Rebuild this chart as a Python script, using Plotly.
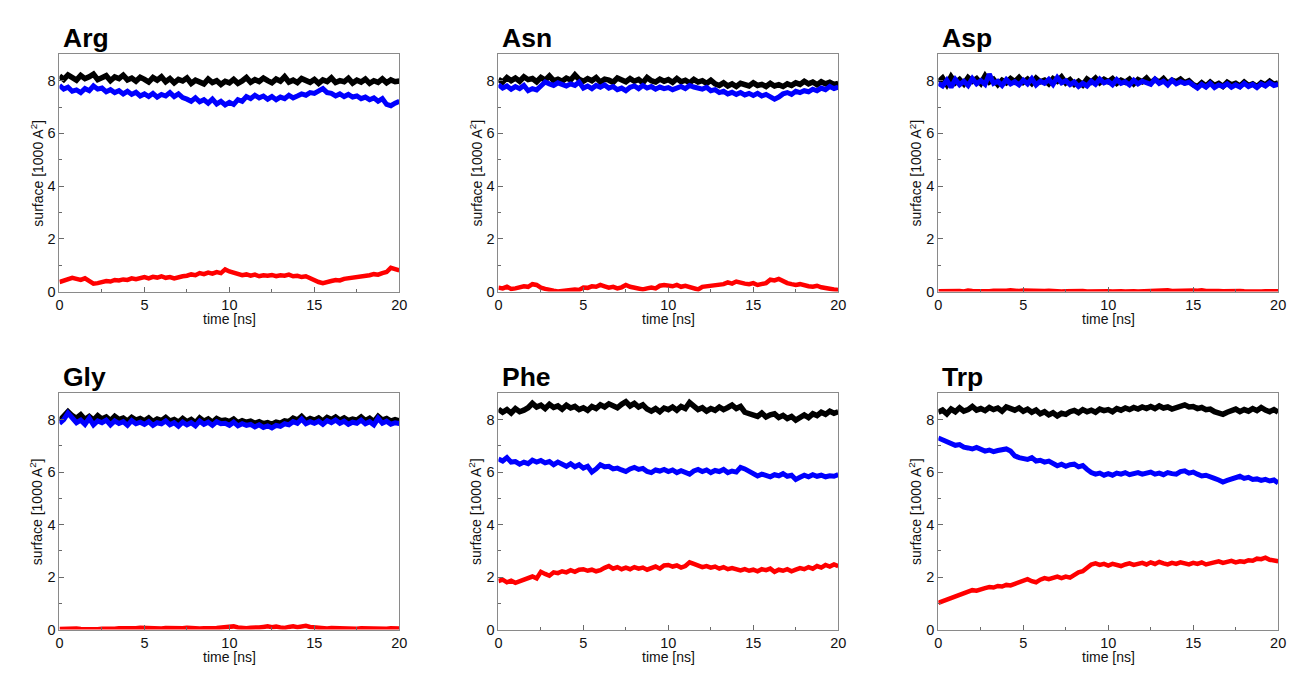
import plotly.graph_objects as go

# Solvent accessible surface per amino acid over a 20 ns trajectory
# (samples every 0.25 ns); values in 1000 A^2.
residues = ["Arg", "Asn", "Asp", "Gly", "Phe", "Trp"]
time_ns = [i * 0.25 for i in range(81)]

arg_black = [8.18,8.05,8.22,8.10,8.02,8.20,8.08,8.15,8.25,8.04,
             8.12,8.19,8.00,8.14,8.08,8.21,8.03,8.10,7.98,8.13,
             8.05,7.95,8.12,8.02,8.15,7.96,8.08,7.92,8.05,7.99,
             8.10,7.90,8.02,7.95,7.88,8.06,7.93,8.00,7.86,7.98,
             7.92,8.05,7.90,7.99,8.12,7.94,8.04,7.97,8.10,8.00,
             7.92,8.06,7.98,8.15,7.95,8.02,7.93,8.08,8.00,7.94,
             8.05,7.90,8.03,7.97,8.11,7.93,8.00,7.96,8.09,7.91,
             8.02,7.95,8.06,7.90,8.00,7.94,8.07,7.92,8.03,7.96,
             7.99]
arg_blue = [7.82,7.68,7.75,7.60,7.65,7.55,7.70,7.62,7.80,7.68,
            7.72,7.58,7.66,7.55,7.62,7.50,7.60,7.48,7.56,7.42,
            7.50,7.40,7.52,7.38,7.48,7.42,7.55,7.40,7.50,7.36,
            7.30,7.22,7.35,7.20,7.28,7.15,7.30,7.12,7.22,7.08,
            7.18,7.10,7.28,7.22,7.40,7.32,7.45,7.35,7.42,7.30,
            7.40,7.28,7.38,7.32,7.45,7.35,7.42,7.50,7.45,7.55,
            7.52,7.62,7.70,7.55,7.52,7.42,7.50,7.40,7.48,7.38,
            7.42,7.32,7.38,7.28,7.35,7.22,7.32,7.10,7.05,7.15,
            7.22]
arg_red = [0.36,0.40,0.45,0.52,0.48,0.44,0.50,0.42,0.30,0.32,
           0.36,0.40,0.38,0.44,0.42,0.46,0.44,0.50,0.47,0.52,
           0.55,0.50,0.56,0.53,0.58,0.52,0.55,0.50,0.56,0.58,
           0.60,0.65,0.62,0.70,0.66,0.72,0.68,0.74,0.70,0.84,
           0.76,0.72,0.68,0.62,0.65,0.60,0.64,0.58,0.62,0.60,
           0.63,0.58,0.62,0.60,0.64,0.58,0.60,0.55,0.58,0.50,
           0.42,0.36,0.32,0.38,0.40,0.44,0.42,0.48,0.50,0.52,
           0.56,0.54,0.60,0.62,0.66,0.64,0.70,0.74,0.90,0.85,
           0.80]

asn_black = [8.05,7.95,8.12,8.00,8.10,7.98,8.15,8.04,8.08,7.96,
             8.12,8.02,8.18,8.00,8.06,7.98,8.10,8.03,8.22,8.05,
             7.98,8.08,8.00,8.12,7.95,8.06,8.02,7.94,8.10,8.00,
             7.96,8.08,7.98,8.05,7.92,8.12,8.00,7.95,8.06,7.98,
             8.04,7.94,8.08,7.96,8.02,7.92,8.05,7.95,8.00,7.90,
             8.02,7.88,7.82,7.92,7.80,7.88,7.78,7.90,7.84,7.80,
             7.92,7.82,7.86,7.78,7.90,7.80,7.85,7.78,7.88,7.82,
             7.92,7.86,7.98,7.88,7.95,7.85,7.96,7.88,7.94,7.86,
             7.90]
asn_blue = [7.85,7.72,7.80,7.68,7.78,7.70,7.82,7.62,7.70,7.65,
            7.80,7.95,7.88,7.82,7.92,7.84,7.80,7.88,7.82,7.95,
            7.72,7.80,7.70,7.82,7.75,7.84,7.72,7.78,7.66,7.72,
            7.62,7.75,7.80,7.70,7.82,7.72,7.78,7.68,7.76,7.70,
            7.74,7.66,7.72,7.78,7.70,7.82,7.76,7.72,7.68,7.75,
            7.62,7.66,7.55,7.60,7.50,7.56,7.48,7.55,7.46,7.52,
            7.44,7.52,7.42,7.48,7.40,7.30,7.38,7.50,7.55,7.48,
            7.60,7.55,7.62,7.58,7.68,7.62,7.72,7.66,7.78,7.70,
            7.76]
asn_red = [0.15,0.12,0.18,0.10,0.12,0.15,0.20,0.18,0.28,0.25,
           0.15,0.10,0.05,0.03,0.00,0.02,0.05,0.04,0.08,0.06,
           0.15,0.14,0.20,0.18,0.25,0.20,0.15,0.18,0.12,0.16,
           0.25,0.18,0.14,0.10,0.08,0.12,0.15,0.12,0.22,0.25,
           0.24,0.20,0.25,0.18,0.22,0.16,0.10,0.08,0.18,0.20,
           0.22,0.25,0.30,0.28,0.35,0.30,0.38,0.32,0.30,0.28,
           0.32,0.25,0.30,0.32,0.45,0.42,0.48,0.38,0.32,0.28,
           0.25,0.28,0.22,0.20,0.18,0.22,0.16,0.12,0.10,0.08,
           0.06]

asp_black = [7.95,8.10,7.85,8.15,7.92,8.05,7.88,8.12,7.98,8.08,
             7.90,8.18,7.95,8.05,7.85,8.02,7.92,8.08,7.96,8.12,
             7.94,8.06,7.90,8.10,7.96,8.02,7.88,8.08,7.98,8.14,
             7.92,8.04,7.86,7.98,7.84,8.06,7.95,8.10,7.92,8.05,
             7.96,8.08,7.90,8.02,7.94,8.06,7.88,8.04,7.96,8.10,
             7.92,8.05,7.94,8.08,7.90,8.02,7.96,8.06,7.92,8.00,
             7.85,7.78,7.92,7.80,7.95,7.82,7.90,7.78,7.94,7.84,
             7.90,7.80,7.95,7.82,7.88,7.78,7.92,7.84,7.98,7.86,
             7.92]
asp_blue = [7.90,7.80,8.02,7.75,8.05,7.85,7.98,7.82,8.08,7.88,
            8.00,7.86,8.25,7.90,7.98,7.82,8.04,7.88,7.96,7.84,
            8.02,7.88,8.08,7.84,7.98,7.90,8.05,7.86,8.12,7.92,
            8.00,7.85,7.95,7.78,7.90,7.80,7.98,7.86,8.06,7.92,
            7.98,7.85,8.04,7.90,7.96,7.84,8.02,7.88,7.98,7.92,
            7.86,8.06,7.90,7.98,7.84,8.02,7.88,7.96,7.90,7.94,
            7.80,7.72,7.86,7.76,7.90,7.74,7.84,7.78,7.88,7.75,
            7.84,7.76,7.90,7.78,7.86,7.74,7.88,7.80,7.92,7.82,
            7.86]
asp_red = [0.01,0.02,0.00,0.03,0.01,0.02,0.00,0.04,0.02,0.01,
           0.02,0.00,0.01,0.03,0.02,0.04,0.03,0.05,0.03,0.02,
           0.04,0.03,0.02,0.04,0.01,0.02,0.03,0.01,0.02,0.00,
           0.01,0.02,0.00,0.01,0.02,0.00,0.01,0.02,0.01,0.02,
           0.01,0.00,0.02,0.01,0.00,0.02,0.01,0.00,0.01,0.02,
           0.01,0.02,0.04,0.03,0.05,0.02,0.03,0.01,0.02,0.03,
           0.04,0.03,0.05,0.02,0.03,0.04,0.02,0.01,0.02,0.03,
           0.01,0.02,0.01,0.00,0.02,0.01,0.00,0.01,0.02,0.01,
           0.01]

gly_black = [7.95,8.10,8.30,8.15,8.05,8.18,8.00,8.12,7.98,8.15,
             8.02,8.10,7.96,8.12,8.00,8.06,7.94,8.08,7.98,8.04,
             7.95,8.06,7.92,8.02,7.96,8.08,7.94,8.00,7.90,8.04,
             7.92,8.00,7.88,8.06,7.94,8.02,7.90,8.04,7.96,7.98,
             7.92,8.02,7.88,7.96,7.90,7.94,7.86,7.92,7.84,7.88,
             7.82,7.90,7.86,7.95,7.92,8.05,7.98,8.12,7.96,8.04,
             7.98,8.06,7.94,8.08,8.00,8.10,7.98,8.06,7.96,8.02,
             7.98,8.10,7.96,8.05,7.92,8.12,7.98,8.04,7.94,8.00,
             7.95]
gly_blue = [7.85,8.00,8.25,8.05,7.88,7.98,7.82,8.05,7.80,7.95,
            7.88,7.98,7.80,7.95,7.85,7.92,7.78,7.96,7.84,7.90,
            7.82,7.92,7.78,7.88,7.84,7.95,7.80,7.88,7.75,7.90,
            7.80,7.88,7.76,7.94,7.82,7.90,7.78,7.92,7.84,7.86,
            7.78,7.90,7.76,7.84,7.78,7.82,7.72,7.80,7.70,7.76,
            7.68,7.78,7.74,7.84,7.80,7.92,7.86,8.02,7.84,7.92,
            7.86,7.94,7.82,7.96,7.88,7.98,7.86,7.94,7.82,7.90,
            7.86,7.98,7.84,7.92,7.80,8.05,7.86,7.94,7.82,7.88,
            7.85]
gly_red = [0.02,0.03,0.01,0.02,0.04,0.02,0.01,0.03,0.02,0.01,
           0.03,0.02,0.04,0.03,0.05,0.04,0.06,0.04,0.05,0.07,
           0.06,0.04,0.05,0.03,0.04,0.06,0.05,0.04,0.06,0.05,
           0.07,0.05,0.06,0.04,0.05,0.07,0.05,0.06,0.08,0.06,
           0.09,0.12,0.08,0.06,0.05,0.07,0.06,0.08,0.10,0.12,
           0.09,0.11,0.08,0.06,0.10,0.12,0.09,0.13,0.14,0.10,
           0.08,0.06,0.05,0.04,0.06,0.05,0.04,0.03,0.05,0.04,
           0.03,0.05,0.04,0.06,0.05,0.03,0.04,0.03,0.05,0.04,
           0.04]

phe_black = [8.40,8.28,8.38,8.25,8.42,8.30,8.36,8.45,8.62,8.48,
             8.55,8.42,8.58,8.46,8.52,8.40,8.55,8.44,8.50,8.38,
             8.45,8.35,8.50,8.42,8.56,8.48,8.60,8.50,8.45,8.58,
             8.68,8.52,8.62,8.48,8.56,8.40,8.32,8.42,8.30,8.44,
             8.38,8.48,8.36,8.50,8.42,8.65,8.52,8.38,8.45,8.32,
             8.42,8.35,8.48,8.38,8.46,8.55,8.42,8.50,8.28,8.22,
             8.20,8.12,8.25,8.10,8.18,8.22,8.08,8.16,8.04,8.12,
             7.98,8.10,8.18,8.08,8.22,8.15,8.28,8.20,8.32,8.24,
             8.30]
phe_blue = [6.50,6.42,6.55,6.38,6.40,6.30,6.38,6.32,6.45,6.38,
            6.44,6.35,6.40,6.28,6.38,6.30,6.22,6.32,6.20,6.28,
            6.15,6.22,6.00,6.12,6.28,6.20,6.22,6.12,6.15,6.08,
            6.02,6.12,6.18,6.10,6.14,6.02,5.98,6.08,6.04,6.10,
            6.02,6.08,5.98,6.05,6.00,5.92,6.04,6.10,6.02,6.08,
            5.98,6.06,6.02,6.10,5.98,6.04,6.00,6.18,6.12,6.02,
            5.90,5.85,5.92,5.88,5.82,5.90,5.86,5.94,5.84,5.88,
            5.72,5.80,5.88,5.82,5.90,5.84,5.88,5.82,5.86,5.84,
            5.90]
phe_red = [1.85,1.90,1.80,1.86,1.78,1.84,1.90,1.96,2.02,1.95,
           2.20,2.12,2.05,2.18,2.15,2.22,2.18,2.26,2.20,2.28,
           2.30,2.24,2.28,2.22,2.26,2.35,2.42,2.32,2.38,2.30,
           2.36,2.30,2.38,2.32,2.36,2.28,2.35,2.40,2.32,2.44,
           2.46,2.40,2.44,2.36,2.42,2.56,2.50,2.42,2.38,2.42,
           2.36,2.40,2.32,2.38,2.30,2.34,2.28,2.25,2.30,2.24,
           2.28,2.22,2.30,2.26,2.32,2.20,2.28,2.24,2.30,2.22,
           2.28,2.34,2.30,2.38,2.32,2.42,2.36,2.46,2.40,2.48,
           2.42]

trp_black = [8.28,8.36,8.22,8.40,8.30,8.45,8.32,8.38,8.50,8.36,
             8.42,8.34,8.46,8.38,8.44,8.32,8.48,8.40,8.36,8.44,
             8.32,8.40,8.28,8.36,8.22,8.30,8.18,8.26,8.14,8.24,
             8.20,8.30,8.35,8.26,8.38,8.30,8.36,8.28,8.40,8.34,
             8.38,8.30,8.42,8.36,8.44,8.38,8.46,8.40,8.48,8.42,
             8.50,8.42,8.52,8.44,8.48,8.40,8.46,8.52,8.56,8.48,
             8.50,8.42,8.46,8.38,8.40,8.30,8.26,8.20,8.28,8.34,
             8.40,8.30,8.38,8.32,8.42,8.34,8.46,8.36,8.30,8.38,
             8.28]
trp_blue = [7.30,7.22,7.15,7.08,7.02,7.05,6.95,6.92,6.88,6.94,
            6.86,6.80,6.84,6.78,6.82,6.86,6.88,6.80,6.62,6.55,
            6.52,6.48,6.55,6.42,6.45,6.38,6.42,6.34,6.24,6.30,
            6.22,6.28,6.30,6.20,6.25,6.10,5.98,5.92,5.96,5.88,
            5.94,5.88,5.96,5.92,5.98,5.90,5.95,5.98,5.92,5.96,
            6.00,5.92,5.96,5.90,5.98,5.94,5.92,6.02,6.05,5.96,
            6.00,5.92,5.85,5.88,5.80,5.76,5.70,5.62,5.68,5.72,
            5.80,5.84,5.76,5.80,5.72,5.74,5.68,5.72,5.66,5.70,
            5.58]
trp_red = [1.02,1.08,1.12,1.20,1.28,1.32,1.40,1.42,1.50,1.48,
           1.55,1.58,1.62,1.60,1.66,1.64,1.70,1.68,1.74,1.80,
           1.88,1.92,1.84,1.80,1.90,1.96,1.92,1.98,2.02,1.96,
           2.02,1.98,2.10,2.18,2.22,2.35,2.48,2.52,2.46,2.50,
           2.44,2.50,2.46,2.42,2.48,2.52,2.46,2.50,2.54,2.48,
           2.56,2.50,2.58,2.52,2.48,2.54,2.50,2.56,2.52,2.48,
           2.54,2.50,2.56,2.48,2.52,2.56,2.60,2.54,2.58,2.62,
           2.56,2.60,2.58,2.64,2.62,2.70,2.68,2.74,2.66,2.62,
           2.60]

series = {
    "Arg": (arg_black, arg_blue, arg_red),
    "Asn": (asn_black, asn_blue, asn_red),
    "Asp": (asp_black, asp_blue, asp_red),
    "Gly": (gly_black, gly_blue, gly_red),
    "Phe": (phe_black, phe_blue, phe_red),
    "Trp": (trp_black, trp_blue, trp_red),
}
colors = ["#000000", "#0000ff", "#ff0000"]
widths = [5.5, 5, 4.5]
x_ticks = [0, 5, 10, 15, 20]
y_ticks = [0, 2, 4, 6, 8]

W, H = 1305, 683
# panel boxes in pixels: (left, right) columns and (top, bottom) rows
cols_px = [(56, 399), (499, 842), (943, 1286)]
rows_px = [(55, 295), (398, 637)]

FONT = "Liberation Sans, Arial, sans-serif"
TXT = "#111111"
fig = go.Figure()
annotations = []

for k, name in enumerate(residues):
    r, c = divmod(k, 3)
    ax = "" if k == 0 else str(k + 1)
    xa, ya = "x" + ax, "y" + ax
    for vals, col, lw in zip(series[name], colors, widths):
        fig.add_trace(go.Scatter(
            x=time_ns[:len(vals)], y=vals, mode="lines",
            line=dict(color=col, width=lw), xaxis=xa, yaxis=ya,
            showlegend=False, hoverinfo="skip"))
    left, right = cols_px[c]
    top, bottom = rows_px[r]
    common = dict(
        showline=True, linecolor="#8a8a8a", linewidth=1, mirror=True,
        ticks="inside", ticklen=5, tickcolor="#6a6a6a", tickwidth=1,
        showgrid=False, zeroline=False,
        tickfont=dict(family=FONT, size=14.5, color=TXT),
    )
    fig.layout["xaxis" + ax] = dict(
        common, domain=[left / W, right / W], anchor=ya,
        range=[0, 20], tickvals=x_ticks,
        minor=dict(dtick=2.5, ticks="inside", ticklen=3, tickcolor="#6a6a6a"),
    )
    fig.layout["yaxis" + ax] = dict(
        common, domain=[1 - bottom / H, 1 - top / H], anchor=xa,
        range=[0, 9], tickvals=y_ticks,
        minor=dict(dtick=1, ticks="inside", ticklen=3, tickcolor="#6a6a6a"),
    )
    # panel heading
    annotations.append(dict(
        text="<b>%s</b>" % name, xref="paper", yref="paper",
        x=(left + 2) / W, y=1 - (top + 1) / H, xanchor="left", yanchor="bottom",
        showarrow=False, font=dict(family=FONT, size=26.5, color="#000")))
    # axis titles
    annotations.append(dict(
        text="time [ns]", xref="paper", yref="paper",
        x=(left + right) / 2 / W, y=1 - (bottom + 28) / H,
        xanchor="center", yanchor="middle", showarrow=False,
        font=dict(family=FONT, size=14, color=TXT)))
    annotations.append(dict(
        text="surface [1000 A<sup>2</sup>]", xref="paper", yref="paper",
        x=(left - 23) / W, y=1 - (top + bottom) / 2 / H, textangle=-90,
        xanchor="center", yanchor="middle", showarrow=False,
        font=dict(family=FONT, size=14, color=TXT)))

fig.update_layout(
    width=W, height=H, margin=dict(l=0, r=0, t=0, b=0),
    paper_bgcolor="white", plot_bgcolor="white",
    annotations=annotations,
)
fig.write_html("out.html")
